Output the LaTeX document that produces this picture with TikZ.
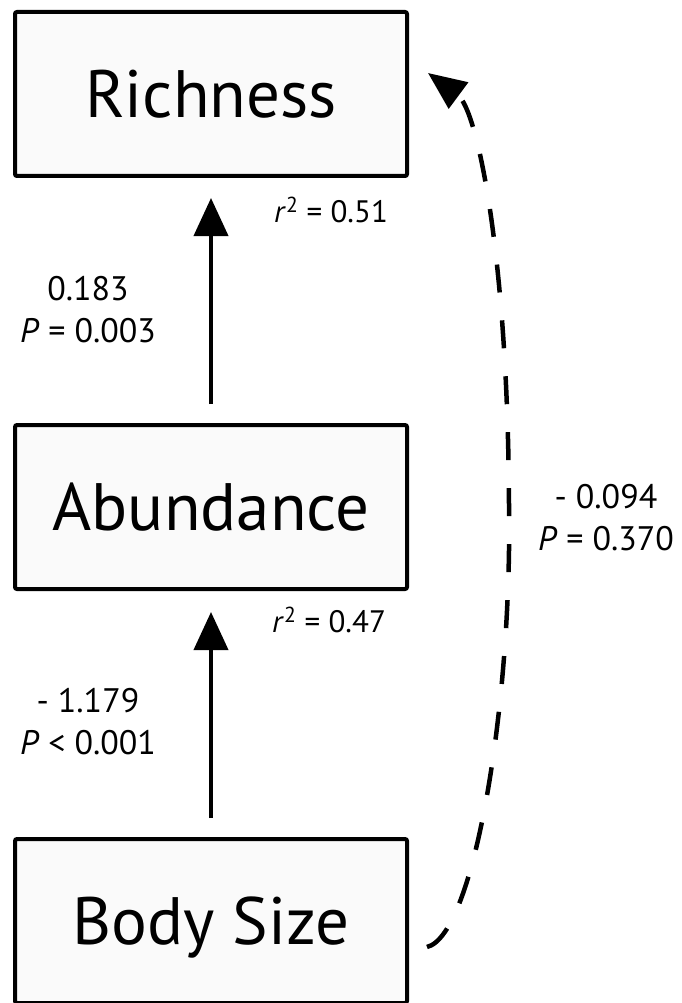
\documentclass[tikz,border=0pt]{standalone}
\usepackage{fontspec}
\setmainfont{PT Sans}
\usetikzlibrary{arrows.meta,calc}
\begin{document}
\begin{tikzpicture}[x=1pt,y=-1pt,
  box/.style={draw=black, line width=4pt, fill=black!2, rounded corners=2pt,
    minimum width=392pt, minimum height=164pt, inner sep=0pt,
    text height=47pt, text depth=0pt, font=\fontsize{67}{67}\selectfont},
  stat/.style={align=center, inner sep=0pt, font=\fontsize{31}{42}\selectfont},
  coef/.style={align=center, inner sep=0pt, font=\fontsize{34}{42}\selectfont},
  path arrow/.style={line width=4pt, -{Triangle[length=38pt,width=34pt]}},
  weak arrow/.style={line width=4.5pt, dash pattern=on 28pt off 28pt,
    -{Triangle[length=38pt,width=32pt]}}]
\useasboundingbox (0,0) rectangle (681,1003);

% variables
\node[box] (rich)  at (211,94)  {Richness};
\node[box] (abund) at (211,507) {Abundance};
\node[box] (body)  at (211,921) {Body Size};

% direct paths
\draw[path arrow, shorten <=19pt, shorten >=20pt] (abund) -- (rich);
\draw[path arrow, shorten <=19pt, shorten >=21pt] (body) -- (abund);

% indirect (non-significant) path
\coordinate (dstart) at ($(body.east)+(18,26)$);
\coordinate (dtip)   at ($(rich.east)+(19,-21)$);
\draw[weak arrow] (dstart) .. controls (475,935) and (512,700) .. (509,505)
  .. controls (508,260) and (478,110) .. (dtip);

% explained variance
\node[stat, anchor=base west] (r2rich)  at (274,222) {\textit{r}\textsuperscript{2} = 0.51};
\node[stat, anchor=base west] (r2abund) at (272,632) {\textit{r}\textsuperscript{2} = 0.47};

% path coefficients
\node[coef] (c1) at (88,310) {0.183\\\textit{P} = 0.003};
\node[coef] (c2) at (88,722) {- 1.179\\\textit{P} < 0.001};
\node[coef] (c3) at (606,518) {- 0.094\\\textit{P} = 0.370};
\end{tikzpicture}
\end{document}
